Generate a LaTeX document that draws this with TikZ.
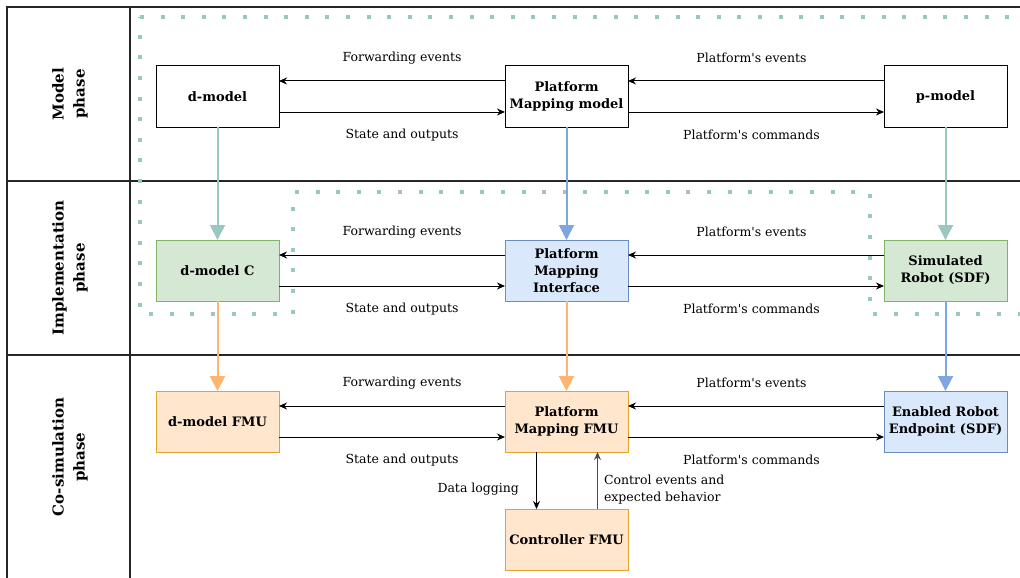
\documentclass[tikz,border=0pt]{standalone}
\usepackage{fontspec}
\setmainfont{DejaVu Serif}
\usetikzlibrary{arrows.meta}
\usetikzlibrary{positioning}

\definecolor{tealline}{HTML}{9AC7BF}
\definecolor{blueline}{HTML}{7EA6E0}
\definecolor{orangeline}{HTML}{FFB570}
\definecolor{greenfill}{HTML}{D5E8D4}
\definecolor{greendraw}{HTML}{82B366}
\definecolor{bluefill}{HTML}{DAE8FC}
\definecolor{bluedraw}{HTML}{6C8EBF}
\definecolor{orangefill}{HTML}{FFE6CC}
\definecolor{orangedraw}{HTML}{E0A430}
% straight apostrophe
\newcommand\straightq{\XeTeXglyph\XeTeXcharglyph"27\relax}

\begin{document}
\begin{tikzpicture}[x=1pt,y=-1pt,>={Stealth[length=8pt,width=7pt]},
                    main node/.style={draw,minimum width=123pt,minimum height=61pt,
                      inner sep=2pt,outer sep=0pt,align=center,line width=1pt,
                      font=\bfseries\fontsize{13}{17}\selectfont},
                    green node/.style={main node,fill=greenfill,draw=greendraw},
                    blue node/.style={main node,fill=bluefill,draw=bluedraw},
                    orange node/.style={main node,fill=orangefill,draw=orangedraw},
                    lane label/.style={rotate=90,align=center,
                      font=\bfseries\fontsize{15}{21}\selectfont},
                    edge label/.style={align=left,inner sep=0pt,
                      font=\fontsize{12.5}{17}\selectfont},
                    flow/.style={->,line width=1pt},
                    phase arrow/.style={line width=2pt,-{Triangle[length=15pt,width=15pt]}}]

  \useasboundingbox (0,0) rectangle (1020,578);

  % swimlanes
  \draw[line width=1.2pt,draw=black!85] (1030,7) -- (7,7) -- (7,590)
    (130,7) -- (130,590) (7,181) -- (1030,181) (7,355) -- (1030,355);
  \node[lane label] (model) at (70,94) {Model\\phase};
  \node[lane label] (impl) at (70,268) {Implementation\\phase};
  \node[lane label] (cosim) at (70,457) {Co-simulation\\phase};

  % model phase
  \node[main node] (dm) at (217.5,96.5) {d-model};
  \node[main node] (pmm) [right=226pt of dm] {Platform\\Mapping model};
  \node[main node] (pm) [right=256pt of pmm] {p-model};

  % implementation phase
  \node[green node] (dmc) [below=113pt of dm] {d-model C};
  \node[blue node] (pmi) [below=113pt of pmm] {Platform\\Mapping\\Interface};
  \node[green node] (sim) [below=113pt of pm] {Simulated\\Robot (SDF)};

  % co-simulation phase
  \node[orange node] (dfmu) [below=90pt of dmc] {d-model FMU};
  \node[orange node] (pfmu) [below=90pt of pmi] {Platform\\Mapping FMU};
  \node[blue node] (efmu) [below=90pt of sim] {Enabled Robot\\Endpoint (SDF)};
  \node[orange node] (ctrl) [below=57pt of pfmu] {Controller FMU};

  % dotted frame
  \draw[tealline,line width=4pt,dash pattern=on 4pt off 16.6pt]
    (140,17) -- (1040,17) -- (1040,314) -- (870,314) -- (870,192)
    -- (293,192) -- (293,314) -- (140,314) -- cycle;

  % phase transitions
  \draw[phase arrow,tealline] (dm) -- (dmc);
  \draw[phase arrow,blueline] (pmm) -- (pmi);
  \draw[phase arrow,tealline] (pm) -- (sim);
  \draw[phase arrow,orangeline] (dmc) -- (dfmu);
  \draw[phase arrow,orangeline] (pmi) -- (pfmu);
  \draw[phase arrow,blueline] (sim) -- (efmu);

  % messages
  \foreach \lnode/\mnode/\rnode/\r in {dm/pmm/pm/a,dmc/pmi/sim/b,dfmu/pfmu/efmu/c} {
    \draw[flow] ([yshift=15.5pt]\mnode.west) --
      node[edge label,xshift=10pt,yshift=23pt] (fe\r) {Forwarding events}
      ([yshift=15.5pt]\lnode.east);
    \draw[flow] ([yshift=-15.5pt]\lnode.east) --
      node[edge label,xshift=10pt,yshift=-23pt] (so\r) {State and outputs}
      ([yshift=-15.5pt]\mnode.west);
    \draw[flow] ([yshift=15.5pt]\rnode.west) --
      node[edge label,xshift=-4.5pt,yshift=23pt] (pe\r) {Platform\straightq s events}
      ([yshift=15.5pt]\mnode.east);
    \draw[flow] ([yshift=-15.5pt]\mnode.east) --
      node[edge label,xshift=-4.5pt,yshift=-23pt] (pc\r) {Platform\straightq s commands}
      ([yshift=-15.5pt]\rnode.west);
  }

  % controller loop
  \draw[flow] ([xshift=-30pt]pfmu.south) --
    node[edge label,anchor=east,xshift=-17pt,yshift=-9pt] (log) {Data logging}
    ([xshift=-30pt]ctrl.north);
  \draw[flow,draw=black!70] ([xshift=31pt]ctrl.north) --
    node[edge label,anchor=west,xshift=6pt,yshift=-9pt] (ctl) {Control events and\\ expected behavior}
    ([xshift=31pt]pfmu.south);
\end{tikzpicture}
\end{document}
